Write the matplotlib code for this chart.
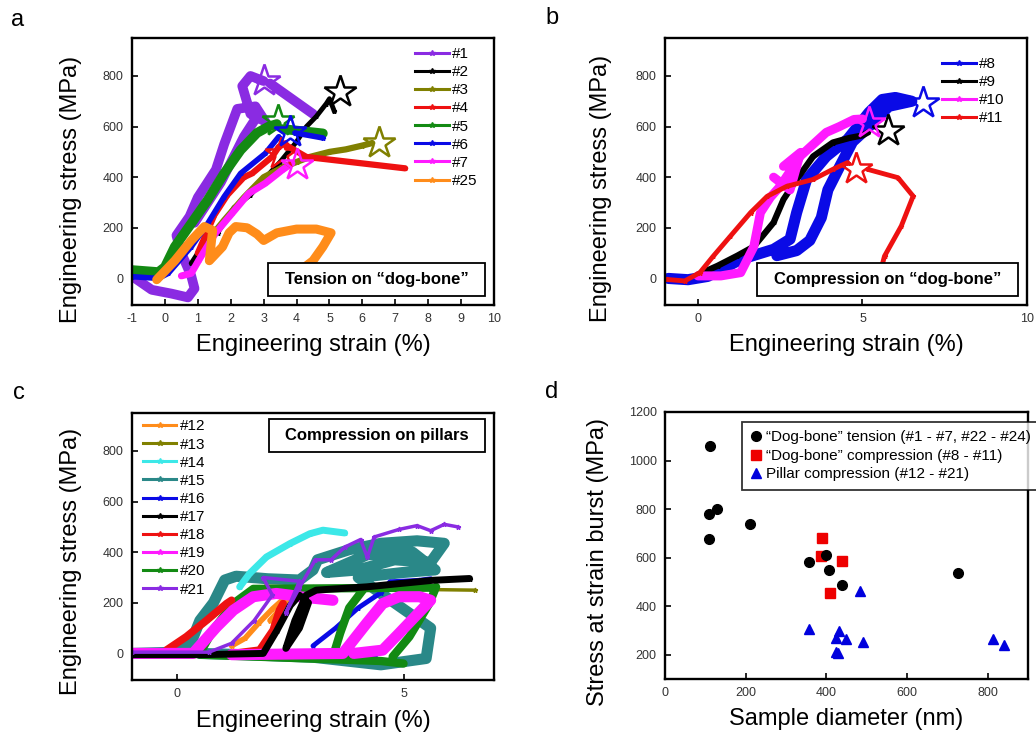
import numpy as np
import matplotlib
matplotlib.use("Agg")
import matplotlib.pyplot as plt
from matplotlib.lines import Line2D
from matplotlib.patches import Rectangle

plt.rcParams['font.family'] = ['Liberation Sans', 'DejaVu Sans']
plt.rcParams['axes.unicode_minus'] = False
N = np.nan

# ---------------- colours ----------------
PURPLE = '#8A2BE2'; BLACK = '#000000'; OLIVE = '#808000'; RED = '#EE1111'
GREEN = '#138A13'; BLUE = '#0A0AE6'; MAGENTA = '#FF1AFF'; ORANGE = '#FF8C1A'
CYAN = '#3CE8E8'; TEAL = '#2A8888'

# ---------------- panel a : tension on dog-bone ----------------
a_labels = ['#1', '#2', '#3', '#4', '#5', '#6', '#7', '#25']
a1_x = [-0.9, -0.4, 0.2, 0.7, 0.9, 0.8, 0.5, 0.35, 0.75, 1.0, 1.3, 1.55, 1.8, 2.0, 2.2, 2.75, 3.05, 2.6, 2.35, 2.6, 3.0, N, 3.2, 4.5, N, 0.9, 1.3, 1.7, 2.05, 2.4, 2.8]
a1_y = [0, -45, -60, -75, -40, 10, 100, 170, 245, 320, 380, 430, 530, 600, 670, 680, 620, 650, 760, 800, 780, N, 770, 650, N, 220, 300, 380, 470, 560, 640]
a2_x = [0.8, 1.2, 1.6, 2.1, 2.6, 3.0, 3.5, 4.0, 4.3, 4.6, 4.9, 5.0, 5.15]
a2_y = [60, 140, 180, 280, 330, 390, 460, 540, 600, 640, 690, 710, 660]
a3_x = [1.3, 1.8, 2.4, 3.0, 3.6, 4.0, 4.4, 5.0, 5.5, 6.0, 6.3]
a3_y = [150, 230, 320, 400, 440, 460, 480, 500, 510, 525, 535]
a4_x = [1.0, 1.5, 1.9, 2.4, 2.65, 3.26, 3.46, 3.66, N, 3.7, 4.3, 7.3]
a4_y = [100, 250, 330, 400, 415, 481, 520, 534, N, 525, 480, 435]
a5_x = [-1.0, -0.2, 0.0, 0.3, 0.8, 1.3, 1.8, 2.3, 2.8, 3.15, 3.4, N, 3.6, 4.8]
a5_y = [33, 25, 45, 125, 217, 310, 415, 507, 575, 600, 610, N, 590, 573]
a6_x = [-1.0, -0.2, 0.1, 0.8, 1.3, 1.8, 2.3, 3.05, 3.46, N, 3.95, 4.8]
a6_y = [7, 0, 20, 125, 217, 323, 415, 494, 560, N, 575, 555]
a7_x = [0.5, 0.8, 1.03, 1.53, 2.04, 2.55, 3.05, 3.56, 3.86]
a7_y = [10, 20, 72, 178, 257, 336, 376, 428, 455]
a25_x = [-0.25, 0.3, 0.8, 1.2, 1.45, 1.35, 1.75, 1.95, 2.15, 2.5, 2.8, 3.0, 3.4, 4.0, 4.6, 5.05, 4.8, 4.5, 4.25]
a25_y = [-5, 70, 150, 205, 190, 70, 125, 180, 205, 200, 175, 150, 180, 195, 195, 180, 125, 70, 45]
a_star_x = [3.0, 5.32, 6.5, 3.53, 3.45, 3.8, 4.0]
a_star_y = [780, 735, 535, 490, 623, 579, 448]

# ---------------- panel b : compression on dog-bone ----------------
b_labels = ['#8', '#9', '#10', '#11']
b8_x = [-0.9, -0.3, 0.3, 1.3, 2.3, 2.8, 3.0, 3.3, 3.9, 4.55, 5.2, 5.6, 6.0, 6.5, 5.8, 5.2, 4.7, 4.3, 3.95, 3.75, 3.4, 3.0, 2.4]
b8_y = [0, -5, 8, 75, 115, 155, 260, 390, 482, 550, 656, 707, 715, 700, 680, 600, 540, 440, 350, 240, 150, 110, 90]
b9_x = [0.0, 0.6, 1.2, 1.7, 2.3, 2.6, 3.0, 3.5, 4.1, 4.6, 5.0, 5.17]
b9_y = [15, 50, 90, 126, 221, 312, 391, 482, 537, 555, 565, 577]
b10_x = [0.0, 0.7, 1.3, 1.7, 1.9, 2.2, 2.5, 3.1, 3.9, 4.3, 4.74, 5.0, N, 2.6, 3.12, 2.8, 2.3]
b10_y = [10, 10, 23, 126, 260, 320, 364, 482, 577, 600, 628, 630, N, 443, 498, 350, 400]
b11_x = [-0.95, -0.4, 0.06, 0.46, 0.98, 1.6, 2.1, 2.7, 3.5, 4.1, 4.55, N, 5.16, 6.08, 6.54, 6.18, 5.67, 5.45]
b11_y = [-4, -10, 23, 87, 166, 260, 324, 364, 391, 431, 458, N, 431, 398, 325, 207, 88, -20]
b_star_x = [6.85, 5.78, 5.2, 4.8]
b_star_y = [695, 581, 616, 431]

# ---------------- panel c : compression on pillars ----------------
c_labels = ['#12', '#13', '#14', '#15', '#16', '#17', '#18', '#19', '#20', '#21']
c12_x = [1.2, 1.5, 1.8, 2.1, 2.35, 2.5, 2.3, 2.05]
c12_y = [30, 60, 120, 175, 215, 230, 180, 130]
c13_x = [1.95, 3.0, 4.5, 6.57]
c13_y = [265, 262, 255, 250]
c14_x = [1.38, 1.6, 1.97, 2.49, 2.93, 3.22, 3.7]
c14_y = [263, 316, 381, 434, 473, 487, 476]
c15_x = [-1.0, 0.0, 0.3, 0.5, 0.8, 1.05, 1.3, 2.0, 2.7, 3.0, 3.1, 3.8, 4.5, 5.3, 5.9, 5.6, 4.8, 4.0, 3.3, 4.2, 5.2, 5.7, 5.0, 4.0, 5.6, 5.5, 4.5, 3.0, 1.5, 0.5]
c15_y = [0, 5, 40, 130, 200, 290, 305, 295, 290, 330, 370, 410, 435, 445, 435, 360, 370, 330, 320, 390, 400, 330, 320, 300, 100, -20, -45, -15, -5, 0]
c16_x = [-1.0, 1.0, 3.0, 4.4, N, 3.0, 3.5, 4.0, 4.5, 4.7, 5.35, 5.6]
c16_y = [0, -5, -10, -20, N, 30, 100, 180, 240, 283, 289, 295]
c17_x = [-1.0, 0.5, 1.9, 2.2, 2.5, 2.7, 2.9, 2.7, 2.4, 2.6, 2.85, 3.07, 4.18, 5.65, 6.46]
c17_y = [-5, -5, 0, 90, 190, 230, 200, 100, 20, 130, 230, 250, 263, 289, 296]
c18_x = [-0.24, 0.2, 0.65, 1.09, 1.2, N, 1.24, 1.82, 2.12, 2.26, 2.34]
c18_y = [13, 66, 131, 197, 210, N, 0, 13, 92, 171, 197]
c19_x = [-1.0, 0.35, 0.87, 1.24, 1.68, 2.19, 2.5, 2.7, 3.44, N, 1.2, 3.66, 4.18, 4.54, 4.9, 5.35, 5.6, 4.9, 4.54, 3.9]
c19_y = [0, 0, 105, 171, 224, 237, 230, 224, 210, N, -5, 0, 118, 197, 224, 224, 210, 79, 13, 0]
c20_x = [0.5, 0.79, 1.24, 1.68, 5.6, N, 3.44, 3.6, 3.8, 4.1, N, 4.76, 5.13, 5.57, 5.72, N, 0.5, 4.5, 5.0]
c20_y = [0, 92, 197, 255, 260, N, -13, 80, 180, 250, N, -13, 66, 197, 263, N, -5, -30, -40]
c21_x = [-1.0, 0.7, 1.2, 1.7, 2.1, 1.9, 2.7, 2.4, 2.7, 3.05, 3.4, 3.7, 4.05, 4.2, 4.35, 4.9, 5.3, 5.6, 5.9, 6.2]
c21_y = [5, 5, 40, 130, 230, 300, 285, 160, 260, 370, 370, 420, 450, 380, 460, 490, 505, 485, 510, 500]

# ---------------- panel d : stress at strain burst ----------------
d_tension_x = [112, 110, 130, 110, 210, 358, 400, 406, 440, 726]
d_tension_y = [1058, 780, 800, 675, 737, 580, 612, 548, 486, 536]
d_comp_x = [390, 387, 439, 410]
d_comp_y = [682, 608, 585, 456]
d_pillar_x = [358, 432, 424, 449, 492, 425, 429, 483, 812, 840]
d_pillar_y = [308, 299, 267, 264, 251, 212, 207, 463, 264, 241]
d_labels = ['\u201cDog-bone\u201d tension (#1 - #7, #22 - #24)',
            '\u201cDog-bone\u201d compression (#8 - #11)',
            'Pillar compression (#12 - #21)']

W, H = 1036, 736
fig = plt.figure(figsize=(W / 100, H / 100), dpi=100)


def axes_px(l, t, r, b):
    return fig.add_axes([l / W, 1 - b / H, (r - l) / W, (b - t) / H])


def style(ax):
    for s in ax.spines.values():
        s.set_linewidth(1.7)
    ax.tick_params(direction='in', length=4, width=1.2, labelsize=9,
                   labelcolor='#333333', pad=6)


def band(ax, xs, ys, color, lw=4.0):
    ax.plot(xs, ys, color=color, lw=lw, marker='*', ms=3.5,
            solid_joinstyle='round', solid_capstyle='round')


def stars(ax, xs, ys, colors):
    for x, y, c in zip(xs, ys, colors):
        ax.plot([x], [y], marker='*', ms=24, mfc='none', mec=c, mew=1.8,
                ls='none', zorder=6)


def legend(ax, labels, colors, anchor):
    handles = [Line2D([], [], color=c, lw=2.2, marker='*', ms=4) for c in colors]
    ax.legend(handles, labels, loc='upper left', bbox_to_anchor=anchor,
              frameon=False, fontsize=11, handlelength=2.2, handletextpad=0.2,
              labelspacing=0.27, borderpad=0, borderaxespad=0)


def textbox(ax, x0, y0, x1, y1, text):
    ax.add_patch(Rectangle((x0, y0), x1 - x0, y1 - y0, transform=ax.transAxes,
                           facecolor='white', edgecolor='black', lw=1.3, zorder=8))
    ax.text((x0 + x1) / 2, (y0 + y1) / 2, text, transform=ax.transAxes,
            ha='center', va='center', fontsize=12, fontweight='bold', zorder=9)


def labels(ax, xl, yl, xpos, ypos):
    ax.set_xlabel(xl, fontsize=17)
    ax.set_ylabel(yl, fontsize=17)
    ax.xaxis.set_label_coords(*xpos)
    ax.yaxis.set_label_coords(*ypos)


# ---- a ----
ax = axes_px(132, 38, 494, 305)
style(ax)
a_colors = [PURPLE, BLACK, OLIVE, RED, GREEN, BLUE, MAGENTA, ORANGE]
a_data = [(a1_x, a1_y), (a2_x, a2_y), (a3_x, a3_y), (a4_x, a4_y),
          (a5_x, a5_y), (a6_x, a6_y), (a7_x, a7_y), (a25_x, a25_y)]
a_lw = [7, 3.5, 4.5, 4.5, 7, 4, 5, 6.5]
for (xs, ys), c, lw in zip(a_data, a_colors, a_lw):
    band(ax, xs, ys, c, lw)
stars(ax, a_star_x, a_star_y, a_colors[:7])
ax.set_xlim(-1, 10)
ax.set_ylim(-105, 950)
ax.set_xticks(range(-1, 11))
ax.set_yticks([0, 200, 400, 600, 800])
legend(ax, a_labels, a_colors, (0.782, 0.966))
textbox(ax, 0.376, 0.034, 0.975, 0.157, 'Tension on \u201cdog-bone\u201d')
labels(ax, 'Engineering strain (%)', 'Engineering stress (MPa)', (0.5, -0.108), (-0.138, 0.434))

# ---- b ----
ax = axes_px(665, 38, 1027, 305)
style(ax)
b_colors = [BLUE, BLACK, MAGENTA, RED]
b_data = [(b8_x, b8_y), (b9_x, b9_y), (b10_x, b10_y), (b11_x, b11_y)]
b_lw = [8, 4.5, 6.5, 3.5]
for (xs, ys), c, lw in zip(b_data, b_colors, b_lw):
    band(ax, xs, ys, c, lw)
stars(ax, b_star_x, b_star_y, b_colors)
ax.set_xlim(-1, 10)
ax.set_ylim(-105, 950)
ax.set_xticks([0, 5, 10])
ax.set_yticks([0, 200, 400, 600, 800])
legend(ax, b_labels, b_colors, (0.765, 0.929))
textbox(ax, 0.254, 0.034, 0.975, 0.157, 'Compression on \u201cdog-bone\u201d')
labels(ax, 'Engineering strain (%)', 'Engineering stress (MPa)', (0.5, -0.108), (-0.146, 0.438))

# ---- c ----
ax = axes_px(132, 413, 494, 680)
style(ax)
c_colors = [ORANGE, OLIVE, CYAN, TEAL, BLUE, BLACK, RED, MAGENTA, GREEN, PURPLE]
c_data = [(c12_x, c12_y), (c13_x, c13_y), (c14_x, c14_y), (c15_x, c15_y),
          (c16_x, c16_y), (c17_x, c17_y), (c18_x, c18_y), (c19_x, c19_y),
          (c20_x, c20_y), (c21_x, c21_y)]
c_lw = [4, 2.5, 5, 8, 3.5, 5, 5.5, 8, 6, 2.5]
order = [3, 2, 0, 1, 4, 8, 6, 7, 5, 9]
for i in order:
    band(ax, c_data[i][0], c_data[i][1], c_colors[i], c_lw[i])
ax.set_xlim(-1, 7)
ax.set_ylim(-105, 950)
ax.set_xticks([0, 5])
ax.set_yticks([0, 200, 400, 600, 800])
legend(ax, c_labels, c_colors, (0.03, 0.976))
textbox(ax, 0.378, 0.854, 0.975, 0.978, 'Compression on pillars')
labels(ax, 'Engineering strain (%)', 'Engineering stress (MPa)', (0.5, -0.112), (-0.138, 0.444))

# ---- d ----
ax = axes_px(665, 412, 1028, 679)
style(ax)
ax.plot(d_tension_x, d_tension_y, 'o', color='black', ms=7, label=d_labels[0], zorder=4)
ax.plot(d_comp_x, d_comp_y, 's', color='#EE0000', ms=6.5, label=d_labels[1], zorder=3)
ax.plot(d_pillar_x, d_pillar_y, '^', color='#0000DD', ms=7.5, label=d_labels[2], zorder=3)
ax.set_xlim(0, 900)
ax.set_ylim(100, 1200)
ax.set_xticks([0, 200, 400, 600, 800])
ax.set_yticks([200, 400, 600, 800, 1000, 1200])
leg = ax.legend(loc='upper left', bbox_to_anchor=(0.212, 0.963), fontsize=11,
                frameon=True, fancybox=False, edgecolor='black', handlelength=0.7,
                handletextpad=0.3, labelspacing=0.3, borderpad=0.55, borderaxespad=0)
leg.get_frame().set_linewidth(1.3)
labels(ax, 'Sample diameter (nm)', 'Stress at strain burst (MPa)', (0.5, -0.11), (-0.154, 0.44))

for t, (x, y) in zip('abcd', [(18, 20), (552, 18), (19, 393), (552, 392)]):
    fig.text(x / W, 1 - y / H, t, fontsize=17, ha='center', va='center')

fig.savefig('out.png', dpi=100)
